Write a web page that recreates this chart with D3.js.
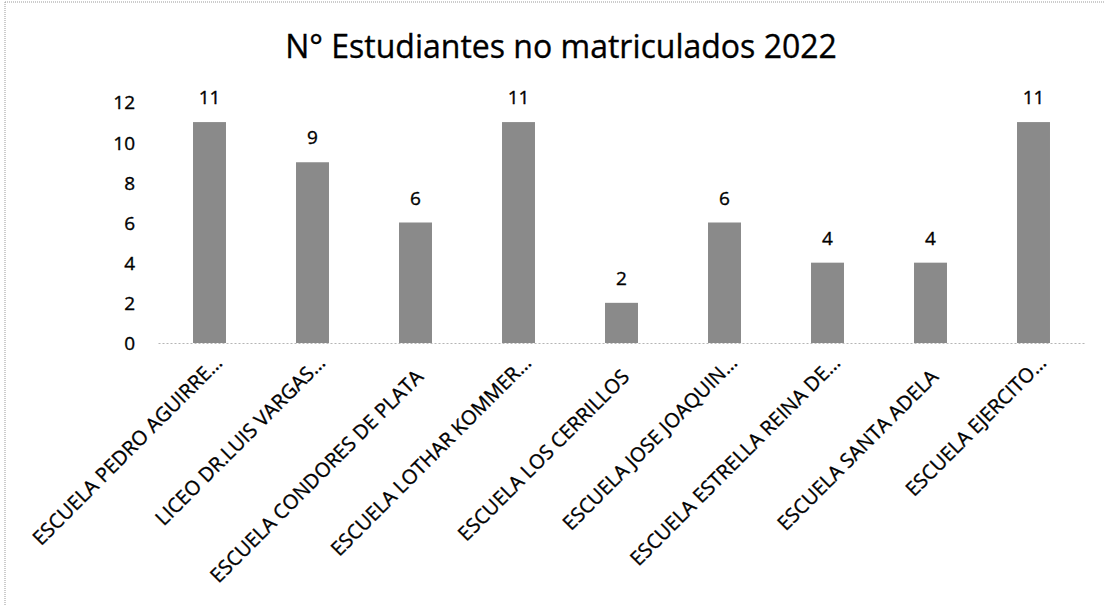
<!DOCTYPE html>
<html>
<head>
<meta charset="utf-8">
<script src="https://cdn.jsdelivr.net/npm/d3@7"></script>
<style>
  html, body { margin: 0; padding: 0; background: #fff; }
  svg { display: block; }
  text { paint-order: stroke; }
</style>
</head>
<body>
<div id="chart"></div>
<script>
const title = "N° Estudiantes no matriculados 2022";
const categories = [
  "ESCUELA PEDRO AGUIRRE…",
  "LICEO DR.LUIS VARGAS…",
  "ESCUELA CONDORES DE PLATA",
  "ESCUELA LOTHAR KOMMER…",
  "ESCUELA LOS CERRILLOS",
  "ESCUELA JOSE JOAQUIN…",
  "ESCUELA ESTRELLA REINA DE…",
  "ESCUELA SANTA ADELA",
  "ESCUELA EJERCITO…"
];
const values = [11, 9, 6, 11, 2, 6, 4, 4, 11];
const yTicks = [0, 2, 4, 6, 8, 10, 12];

const W = 1105, H = 605;
const font = "'Open Sans', 'DejaVu Sans', sans-serif";

const svg = d3.select("#chart").append("svg")
  .attr("width", W).attr("height", H);

// page border (scanned frame)
svg.append("line").attr("x1", 5).attr("x2", W).attr("y1", 2).attr("y2", 2)
  .attr("stroke", "#999").attr("stroke-dasharray", "1,1");
svg.append("line").attr("x1", 5).attr("x2", 5).attr("y1", 2).attr("y2", H)
  .attr("stroke", "#999").attr("stroke-dasharray", "1,1");

const x = d3.scaleBand().domain(categories).range([158, 1085])
  .paddingInner(0.68).paddingOuter(0.34);
const y = d3.scaleLinear().domain([0, 12]).range([343, 102]);

function ink(sel) {
  return sel.attr("font-family", font).attr("font-weight", 400)
    .attr("fill", "#000").attr("stroke", "#000").attr("stroke-width", 0.35);
}

// title
svg.append("text")
  .attr("x", 561).attr("y", 58)
  .attr("text-anchor", "middle")
  .attr("font-size", 32)
  .call(ink)
  .text(title);

// y axis (labels only)
const yAxis = d3.axisLeft(y).tickValues(yTicks).tickSize(0).tickPadding(0);
const gy = svg.append("g").attr("transform", "translate(135,0)").call(yAxis);
gy.select(".domain").remove();
gy.selectAll("text").attr("font-size", 19).call(ink).attr("dy", "0.36em");

// bars
svg.append("g").selectAll("rect").data(values).join("rect")
  .attr("x", (d, i) => x(categories[i]))
  .attr("width", x.bandwidth())
  .attr("y", d => y(d))
  .attr("height", d => y(0) - y(d))
  .attr("fill", "#8a8a8a");

// x axis line
const xAxis = d3.axisBottom(x).tickSize(0).tickFormat("");
const gx = svg.append("g").attr("transform", `translate(0,${y(0)})`).call(xAxis);
gx.select(".domain").attr("stroke", "#b5b5b5").attr("stroke-dasharray", "2,2");

// data labels
svg.append("g").selectAll("text").data(values).join("text")
  .attr("x", (d, i) => x(categories[i]) + x.bandwidth() / 2)
  .attr("y", d => y(d) - 18)
  .attr("text-anchor", "middle")
  .attr("font-size", 19)
  .call(ink)
  .text(d => d);

// category labels rotated
svg.append("g").selectAll("text").data(categories).join("text")
  .attr("transform", d => {
    const cx = x(d) + x.bandwidth() / 2;
    const trunc = d.endsWith("…");
    return trunc
      ? `translate(${cx + 14},${y(0) + 21}) rotate(-45)`
      : `translate(${cx + 9},${y(0) + 35}) rotate(-45)`;
  })
  .attr("text-anchor", "end")
  .attr("font-size", 20)
  .call(ink)
  .text(d => d);
</script>
</body>
</html>
